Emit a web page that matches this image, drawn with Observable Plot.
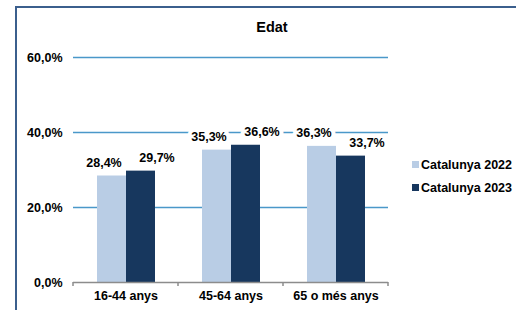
<!DOCTYPE html>
<html>
<head>
<meta charset="utf-8">
<script src="https://cdn.jsdelivr.net/npm/d3@7"></script>
<script src="https://cdn.jsdelivr.net/npm/@observablehq/plot@0.6"></script>
<style>
  html, body { margin: 0; padding: 0; background: #fff; }
  #wrap { position: relative; width: 516px; height: 310px; overflow: hidden; font-family: "Liberation Sans", Arial, sans-serif; }
  #frame { position: absolute; left: 15px; top: 6px; width: 520px; height: 320px; border-left: 2px solid #3b5f8d; border-top: 2px solid #3b5f8d; box-sizing: border-box; }
  #title { position: absolute; left: 0; width: 544px; top: 19px; text-align: center; font-weight: bold; font-size: 14.5px; }
  #legend { position: absolute; left: 412px; top: 157px; font-weight: bold; font-size: 12.5px; }
  .item { height: 23px; line-height: 16px; white-space: nowrap; }
  .sw { display: inline-block; width: 7px; height: 7px; margin-right: 2px; vertical-align: 1px; }
  #chart { position: absolute; left: 0; top: 0; }
</style>
</head>
<body>
<div id="wrap">
  <div id="frame"></div>
  <div id="chart"></div>
  <div id="title"></div>
  <div id="legend"></div>
</div>
<script>
const title = "Edat";
const categories = ["16-44 anys", "45-64 anys", "65 o més anys"];
const series = ["Catalunya 2022", "Catalunya 2023"];
const values2022 = [28.4, 35.3, 36.3];
const values2023 = [29.7, 36.6, 33.7];
const yTicks = [0, 20, 40, 60];
const gridTicks = [20, 40, 60];
const colors = ["#b9cde5", "#17375e"];

const data = [];
categories.forEach((c, i) => {
  data.push({category: c, series: series[0], value: values2022[i]});
  data.push({category: c, series: series[1], value: values2023[i]});
});

const fmt = d => d.toFixed(1).replace(".", ",") + "%";

const plot = Plot.plot({
  width: 516,
  height: 310,
  marginLeft: 72,
  marginRight: 128,
  marginTop: 57,
  marginBottom: 28,
  style: {fontFamily: "'Liberation Sans', Arial, sans-serif", fontSize: "12.5px", fontWeight: "bold", color: "#000", background: "transparent"},
  fx: {domain: categories, padding: 0, axis: "bottom", tickSize: 0, tickPadding: 9, label: null},
  x: {domain: series, paddingInner: 0, paddingOuter: 0.755, axis: null},
  y: {domain: [0, 60], ticks: yTicks, tickFormat: fmt, tickSize: 0, tickPadding: 11, label: null},
  color: {domain: series, range: colors},
  marks: [
    Plot.ruleY(gridTicks, {stroke: "#4a98c9", strokeWidth: 1.5}),
    Plot.barY(data, {fx: "category", x: "series", y: "value", fill: "series"}),
    Plot.ruleY([0], {stroke: "#8c8c8c", strokeWidth: 1.5}),
    Plot.text(data.filter(d => d.series === series[0]), {fx: "category", x: "series", y: "value", text: d => fmt(d.value), dy: -13, dx: -8, fill: "#000", stroke: "white", strokeWidth: 8, paintOrder: "stroke", fontWeight: "bold"}),
    Plot.text(data.filter(d => d.series === series[1]), {fx: "category", x: "series", y: "value", text: d => fmt(d.value), dy: -13, dx: 16, fill: "#000", stroke: "white", strokeWidth: 8, paintOrder: "stroke", fontWeight: "bold"})
  ]
});

// boundary ticks on the category axis, from the library's scales
const fx = plot.scale("fx");
const ys = plot.scale("y");
const y0 = ys.apply(0);
const bounds = categories.map(c => fx.apply(c));
bounds.push(fx.apply(categories[categories.length - 1]) + fx.bandwidth);
const svg = d3.select(plot);
svg.append("g").selectAll("line").data(bounds).join("line")
  .attr("x1", d => d).attr("x2", d => d)
  .attr("y1", y0).attr("y2", y0 + 4)
  .attr("stroke", "#8c8c8c").attr("stroke-width", 1.5);

document.getElementById("chart").appendChild(plot);
document.getElementById("title").textContent = title;

const legend = d3.select("#legend");
series.forEach((s, i) => {
  const item = legend.append("div").attr("class", "item");
  item.append("span").attr("class", "sw").style("background", colors[i]);
  item.append("span").text(s);
});
</script>
</body>
</html>
